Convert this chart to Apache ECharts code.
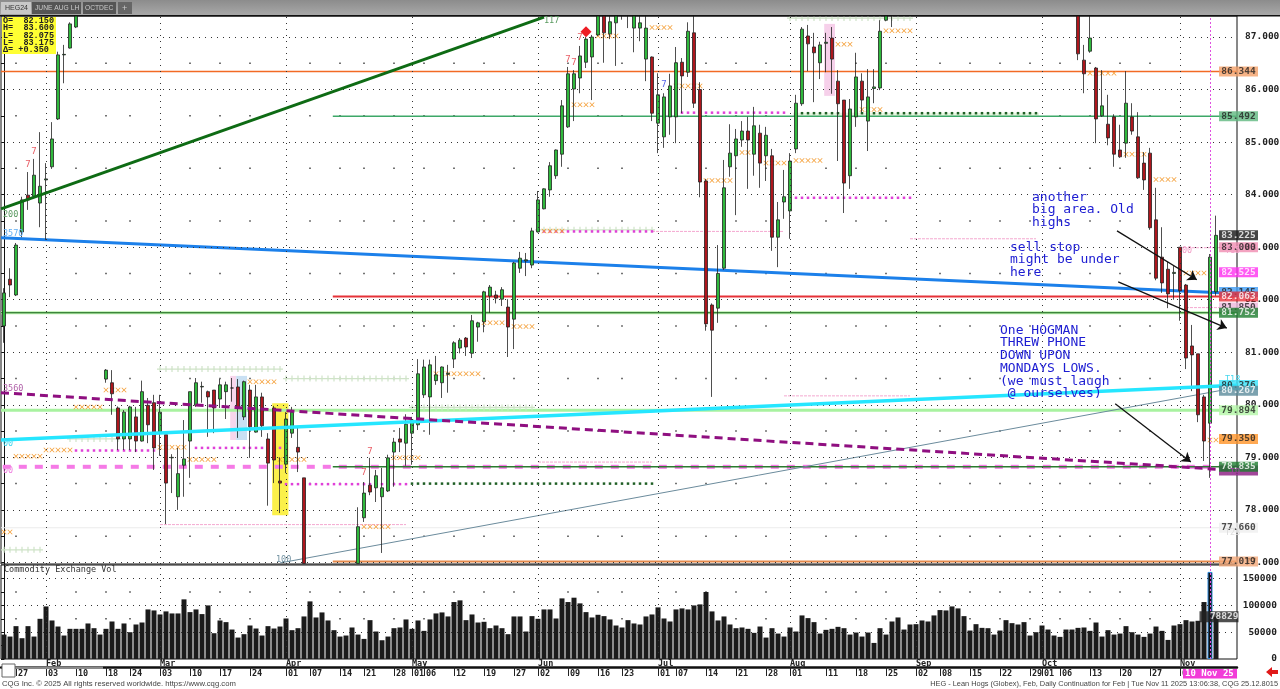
<!DOCTYPE html>
<html>
<head>
<meta charset="utf-8">
<title>HEG - Lean Hogs</title>
<script src="https://cdn.jsdelivr.net/npm/echarts@6/dist/echarts.min.js"></script>
<style>
    html, body { margin: 0; padding: 0; background: #fff; }
    #chart { width: 1280px; height: 689px; }
</style>
</head>
<body>
<div id="chart"></div>
<script>
// open, close, low, high. null = bar is off the visible price range
var ohlc = [
    [81.50,82.13,81.18,82.22],[82.39,82.28,82.05,82.60],[82.09,83.04,82.07,83.08],[83.29,83.90,83.19,83.96],
    [83.99,83.90,83.71,84.43],[83.97,84.37,83.94,84.68],[83.84,84.16,83.38,85.19],[84.28,84.30,83.14,84.60],
    [84.53,85.06,84.49,85.38],[85.44,86.66,85.42,86.72],[86.66,86.67,86.12,86.85],[86.79,87.25,86.78,87.28],
    [87.19,87.60,87.17,87.80],null,null,null,null,
    [80.49,80.66,80.42,80.68],[80.42,80.21,79.81,80.66],[79.94,79.35,79.14,79.97],[79.35,79.86,79.14,79.90],
    [79.35,79.96,79.14,79.98],[79.77,79.31,79.10,79.96],[79.31,80.25,79.30,80.46],[79.99,79.62,79.27,80.13],
    [80.04,79.18,78.76,80.19],[79.48,79.86,79.03,80.19],[79.43,78.51,77.73,79.43],[78.99,79.00,78.32,79.06],
    [78.25,78.69,78.00,79.18],[78.85,78.97,78.25,79.71],[79.31,80.25,78.61,80.25],[79.99,80.42,79.96,80.51],
    [80.34,80.35,80.04,80.44],[80.25,80.15,79.39,80.27],[80.28,79.94,79.46,80.28],[80.11,80.38,79.94,80.49],
    [80.25,80.38,79.73,80.44],[80.32,80.32,80.06,80.51],[80.34,79.94,79.37,80.49],[79.77,80.44,79.71,80.46],
    [80.28,79.58,78.99,80.38],[79.48,80.15,79.47,80.38],[80.15,79.60,79.39,80.23],[79.35,78.89,78.08,79.46],
    [79.94,78.95,78.51,79.98],[78.55,78.51,77.94,79.00],[78.87,79.73,78.70,79.86],[79.46,79.86,79.37,79.96],
    [79.19,79.10,78.72,79.56],[78.61,76.98,76.98,78.61],null,null,null,null,null,null,null,null,
    [76.98,77.68,76.98,78.05],[77.85,78.32,77.77,78.53],[78.47,78.34,78.28,78.99],[78.42,78.65,78.15,78.76],
    [78.25,78.42,77.18,78.80],[78.36,78.99,78.34,79.05],[79.10,79.29,78.44,79.37],[79.35,79.29,79.10,79.56],
    [79.27,79.63,78.84,79.82],[79.46,79.71,78.86,79.77],[79.62,80.59,79.52,80.87],[80.19,80.72,80.13,80.86],
    [80.15,80.76,79.43,80.86],[80.46,80.57,80.38,80.93],[80.42,80.72,80.13,80.73],[80.58,80.60,80.23,80.76],
    [80.87,81.18,80.70,81.21],[81.08,81.23,80.98,81.27],[81.27,81.10,80.93,81.29],[80.98,81.60,80.89,81.71],
    [81.48,81.56,81.20,81.58],[81.58,82.15,81.38,82.17],[82.07,82.24,81.75,82.28],[82.09,82.03,81.93,82.17],
    [82.01,82.19,81.88,82.24],[81.86,81.48,80.91,82.01],[81.63,82.70,81.06,82.72],[82.60,82.79,82.51,82.91],
    [82.74,82.76,82.45,82.89],[82.66,83.31,82.60,83.37],[83.29,83.90,83.28,84.07],[83.73,84.11,83.72,84.12],
    [84.09,84.55,83.96,84.62],[84.36,84.85,84.30,84.86],[84.77,85.69,84.53,85.80],[85.29,86.30,85.27,86.43],
    [86.01,86.30,85.40,86.37],[86.22,86.64,85.93,86.83],[86.52,86.96,86.41,87.00],[86.62,87.00,85.80,87.04],
    [87.04,87.50,87.02,87.60],[87.50,87.08,86.51,87.60],[87.06,87.29,86.96,87.45],[87.27,87.45,86.45,87.55],
    [87.70,87.50,87.33,87.90],[87.50,87.80,87.17,87.90],[87.17,87.50,86.71,87.60],[87.17,87.27,86.92,87.45],
    [86.58,87.17,86.16,87.45],[86.62,85.55,85.40,86.63],[85.36,85.90,84.79,86.31],[85.10,85.86,84.89,85.93],
    [85.48,86.07,85.14,86.30],[85.48,86.51,84.98,86.81],[86.52,86.26,85.55,86.60],[86.33,87.11,86.24,87.28],
    [87.08,85.74,85.65,87.45],[86.00,84.24,83.95,86.14],[84.26,81.54,81.41,84.30],[81.90,81.42,80.15,81.93],
    [81.84,82.50,81.56,83.04],[82.60,84.13,82.57,84.66],[84.53,84.79,84.34,85.34],[84.74,85.06,83.61,85.25],
    [85.04,85.21,84.91,85.40],[85.21,85.04,84.11,85.48],[84.77,85.31,84.36,85.67],[85.17,84.60,84.13,85.33],
    [84.74,85.13,84.26,85.29],[84.74,83.19,82.93,84.87],[83.19,83.52,82.62,83.86],[83.86,83.96,83.54,84.47],
    [83.69,84.64,83.16,84.79],[84.87,85.74,84.79,85.90],[85.73,87.15,85.69,87.19],[87.02,86.87,86.35,87.23],
    [86.81,86.70,85.76,87.08],[86.51,86.85,86.20,86.91],[86.88,86.90,86.33,87.08],[86.98,86.58,85.92,87.19],
    [86.16,85.73,84.64,86.37],[85.80,84.22,83.65,85.80],[84.36,85.63,84.11,85.82],[85.48,86.24,85.29,86.70],
    [86.16,85.80,85.57,86.31],[85.40,85.86,84.83,86.39],[86.02,86.05,85.74,86.39],[86.03,87.11,85.99,87.32],
    [87.32,87.50,87.30,87.60],[87.70,87.50,87.19,87.90],
    null,null,null,null,null,null,null,null,null,null,null,null,null,null,null,
    null,null,null,null,null,null,null,null,null,null,null,null,null,null,null,
    [87.60,86.68,86.56,87.80],[86.56,86.30,85.93,86.85],[86.73,86.98,86.70,87.60],[86.41,85.44,84.98,86.43],
    [85.50,85.69,85.48,86.37],[85.34,85.08,84.94,85.90],[85.48,84.77,84.53,85.53],[84.85,84.72,84.70,85.33],
    [84.98,85.74,84.70,86.35],[85.48,85.21,85.14,85.74],[85.10,84.32,84.30,85.57],[84.60,84.28,84.09,84.81],
    [84.79,83.37,83.33,84.89],[83.52,82.41,82.37,84.13],[82.81,82.32,82.13,83.38],[82.58,82.11,81.84,82.72],
    [82.50,82.52,82.00,82.64],[83.00,82.17,81.60,83.00],[82.28,80.89,80.68,82.30],[81.12,80.95,80.26,81.52],
    [80.97,79.81,79.67,80.97],[80.15,79.31,78.93,80.19],[79.65,82.81,78.61,82.87],[82.15,83.225,82.075,83.60]
];

var volume = [
    45600,41900,61300,38800,61300,41900,75000,98100,71900,60600,43800,56300,56300,56300,66300,57500,45600,
    56300,70000,56300,66300,50000,64400,68100,92500,90600,83100,88800,85000,85000,111300,87500,92500,83800,
    100000,48100,71900,68800,55000,40000,46300,62500,56900,43800,61300,56900,60600,75600,53800,57500,79400,
    107500,77500,86900,71900,53800,41900,43800,58800,45600,37500,72500,51300,35000,41900,57500,58800,73800,
    56300,71900,52500,73800,85000,86900,79400,106300,109400,72500,83100,68100,69400,57500,62500,57500,46300,
    79400,79400,51300,80000,75000,92500,92500,75600,113100,106300,114400,103800,87500,77500,82500,80000,73800,
    62500,58800,72500,66300,64400,79400,83100,96300,75600,70000,92500,94400,92500,100000,101900,125000,88800,
    71900,79400,64400,57500,58800,56300,48800,60600,40000,57500,47500,41900,58800,51300,81300,76300,68800,
    47500,54400,56300,60000,57500,45600,49400,41900,49400,30000,57500,45600,70000,77500,55000,64400,65000,
    71900,70000,81300,91300,90600,98100,94400,80000,53100,65000,58100,57500,45600,53100,72500,66900,64400,
    68800,43800,50000,62500,55000,43800,41300,55000,55000,58100,58800,52500,68100,41900,53800,45600,47500,
    61300,50000,45600,41300,47500,60600,52500,35600,62500,65000,72500,70000,71300,106300,162500,78829
];

var barCount = 206;   // three empty slots after the last bar
var priceTicks = [77,78,79,80,81,82,83,84,85,86,87];
var priceMinor = [77.5,78.5,79.5,80.5,81.5,82.5,83.5,84.5,85.5,86.5];
var volTicks = [0,50000,100000,150000];
var volMinor = [25000,75000,125000];

var monthStarts = [7,26,47,68,89,109,131,152,173,196];
var monthNames = ['Feb','Mar','Apr','May','Jun','Jul','Aug','Sep','Oct','Nov'];
var dayIdx = [2,7,12,17,21,26,31,36,41,47,51,56,60,65,68,70,75,80,85,89,94,99,103,109,112,117,122,127,131,137,142,147,152,156,161,166,171,173,176,181,186,191,196];
var dayNames = ['27','03','10','18','24','03','10','17','24','01','07','14','21','28','01','06','12','19','27','02','09','16','23','01','07','14','21','28','01','11','18','25','02','08','15','22','29','01','06','13','20','27','03'];

// [first bar, last bar, price]
var xRuns = [[0,1,77.58],[2,6,79.02],[7,11,79.14],[12,16,79.96],[17,20,80.28],[26,30,79.19],[31,35,78.96],[41,45,80.44],[46,50,78.96],
    [60,64,77.68],[65,69,78.99],[72,79,80.59],[80,83,81.56],[85,88,81.49],[90,93,83.31],[95,98,85.71],[99,102,87.02],[108,111,87.18],
    [112,116,86.07],[117,121,84.27],[123,124,84.80],[127,130,84.60],[132,136,84.65],[139,141,86.86],[143,146,85.62],[147,151,87.12],
    [181,185,86.31],[187,190,84.77],[192,195,84.29],[197,200,82.51],[201,203,79.33]];
var magentaRuns = [[12,25,79.13],[32,46,79.18],[47,67,78.49],[90,108,83.30],[113,130,85.56],[132,151,83.94],[203,203,82.51]];
var greenDotRuns = [[68,108,78.50],[132,172,85.55]];
var plusRuns = [[0,6,77.24],[11,19,79.35],[26,46,80.68],[47,67,80.50],[68,88,79.95],[89,108,83.33],[131,151,87.36]];

// thin pink stop levels: [first bar, last bar, price]
var pinkLevels = [[26,67,77.72],[89,108,78.91],[130,151,80.17],[108,130,83.30],[151,172,83.16],[196,205,82.99],[197,203,81.85]];

var redSevens = [[5,84.81],[4,84.58],[96,86.98],[94,86.56],[95,86.51],[61,79.10],[60,78.70]];
var blueSevens = [[110,86.09]];
var diamonds = [[97,87.10]];

var tagValues = [86.344,85.492,83.225,83.000,82.525,81.850,82.145,82.063,81.752,80.376,80.267,79.894,79.350,78.750,78.820,77.660,77.019];
var tagTexts = ['86.344','85.492','83.225','83.000','82.525','81.850','82.145','82.063','81.752','80.376','80.267','79.894','79.350','','78.835','77.660','77.019'];
var tagFill = ['#f4a068','#5fb880','#151515','#f08cb0','#ff30f0','#eeb8dc','#3f9cf5','#e8323c','#1d7d2e','#35e4fb','#5b8b9b','#b4f6a8','#ff9428','#8a1880','#1d7d2e','#efefef','#f2a878'];
var tagInk = ['#222','#222','#fff','#222','#fff','#222','#222','#fff','#fff','#222','#fff','#222','#222','#fff','#fff','#222','#222'];

var xPoints = function(runs) {
    var out = [];
    runs.forEach(function(r) {
        for (var i = r[0]; i <= r[1]; i++) {
            out.push([i, r[2]]);
        }
    });
    return out;
};

var cats = [];
for (var c = 0; c < barCount; c++) { cats.push('b' + c); }

var dayOf = {};
dayIdx.forEach(function(v, i) { dayOf['b' + v] = dayNames[i]; });
var monthOf = {};
monthStarts.forEach(function(v, i) { monthOf['b' + v] = monthNames[i]; });

// minor dots sit on the weekly ticks that are not month starts
var weekIdx = dayIdx.filter(function(d) { return monthStarts.indexOf(d) < 0; });
var priceDots = [], volDots = [];
weekIdx.forEach(function(w) {
    priceMinor.forEach(function(p) { priceDots.push([w, p]); });
    volMinor.forEach(function(v) { volDots.push([w, v]); });
});

var candles = ohlc.map(function(r) { return r || ['-','-','-','-']; });
var xCross = 'path://M1 0L5 4L9 0L10 1L6 5L10 9L9 10L5 6L1 10L0 9L4 5L0 1Z';
var xPlus = 'path://M4 0H6V4H10V6H6V10H4V6H0V4H4Z';
var monoFont = '"DejaVu Sans Mono", monospace';

var level = function(from, to, price, color, width, dash, z) {
    return {
        type: 'line', xAxisIndex: 1, yAxisIndex: 0, z: z || 1, symbol: 'none', silent: true,
        data: [[from, price], [to, price]],
        lineStyle: { color: color, width: width, type: dash || 'solid', cap: 'butt' }
    };
};
var slope = function(a, b, color, width, dash, z) {
    return {
        type: 'line', xAxisIndex: 1, yAxisIndex: 0, z: z, symbol: 'none', silent: true,
        data: [a, b],
        lineStyle: { color: color, width: width, type: dash || 'solid', cap: 'butt' }
    };
};
var markRow = function(runs, symbol, size, color, z) {
    return {
        type: 'scatter', xAxisIndex: 1, yAxisIndex: 0, z: z || 3, silent: true,
        symbol: symbol, symbolSize: size, data: xPoints(runs),
        itemStyle: { color: color, opacity: 1 }
    };
};

var series = [];

// grid dots + shaded boxes
series.push({
    type: 'line', xAxisIndex: 1, yAxisIndex: 0, z: 0, silent: true, data: [],
    markLine: {
        silent: true, symbol: 'none', animation: false, label: { show: false },
        lineStyle: { color: '#333', width: 1, type: [1, 5] },
        data: priceTicks.map(function(p) { return { yAxis: p }; })
            .concat(monthStarts.map(function(m) { return { xAxis: m }; }))
    },
    markArea: {
        silent: true, animation: false,
        data: [
            [{ coord: [37.7, 80.55], itemStyle: { color: '#f7d6ec' } }, { coord: [38.7, 79.33] }],
            [{ coord: [38.7, 80.55], itemStyle: { color: '#c9e0f3' } }, { coord: [40.5, 79.33] }],
            [{ coord: [44.7, 80.03], itemStyle: { color: '#fbf04a' } }, { coord: [47.4, 77.90] }],
            [{ coord: [136.7, 87.25], itemStyle: { color: '#f6d0ea' } }, { coord: [138.5, 85.88] }]
        ]
    }
});
series.push({
    type: 'scatter', xAxisIndex: 1, yAxisIndex: 0, z: 0, silent: true, symbol: 'rect', symbolSize: 1.5,
    data: priceDots, itemStyle: { color: '#444', opacity: 1 }
});

// horizontal studies behind the bars
series.push(level(131.5, 172.5, 85.52, '#e6f7e0', 4));
series.push(level(-0.5, 205.5, 86.344, '#f26a24', 1.4));
series.push(level(54.8, 205.5, 85.492, '#3da868', 1.4));
series.push(level(54.8, 205.5, 82.063, '#e63238', 2));
series.push(level(-0.5, 205.5, 81.752, '#b6f0a8', 3));
series.push(level(-0.5, 205.5, 81.752, '#14601a', 1));
series.push(level(-0.5, 205.5, 79.894, '#a8f2a0', 3));
series.push(level(-0.5, 205.5, 77.66, '#ececec', 1));
series.push(level(-0.2, 205.5, 78.82, '#f57ae6', 4, [8, 8]));
series.push(level(54.8, 205.5, 78.82, '#2c7a30', 1.5, null, 1));
series.push(level(54.8, 205.5, 77.019, '#e58a4c', 2));
pinkLevels.forEach(function(l) {
    series.push(level(l[0], l[1], l[2], '#f4a8d0', 1, [3, 1]));
});
series.push(slope([-0.5, 83.18], [205.5, 82.12], '#1c80ea', 3, null, 1));
series.push(slope([46, 76.99], [205.5, 80.33], '#6b8b9c', 1, null, 1));

series.push(markRow(plusRuns, xPlus, 6, '#cfe3c8', 1));
series.push(markRow(greenDotRuns, 'rect', 2.5, '#1f5f25', 3));
series.push(markRow(magentaRuns, 'rect', 2.5, '#e040d8', 3));
series.push(markRow(xRuns, xCross, 5, '#f39a2e', 3));

series.push({
    type: 'candlestick', xAxisIndex: 0, yAxisIndex: 0, z: 4, data: candles, barWidth: 4, silent: true,
    clip: true,
    itemStyle: { color: '#2fb83c', color0: '#ad161d', borderColor: '#222', borderColor0: '#222', borderWidth: 0.8 }
});

// lines drawn over the bars
series.push(slope([-0.5, 83.73], [90, 87.38], '#0e6b14', 3, null, 5));
series.push(slope([-0.5, 79.33], [205.5, 80.37], '#25e6ff', 3.5, null, 5));
series.push(slope([-0.5, 80.23], [205.5, 78.75], '#8f0f80', 3, [8, 5], 5));

// marker at the last session, and the arrows
series.push({
    type: 'line', xAxisIndex: 1, yAxisIndex: 0, z: 6, silent: true, data: [],
    markLine: {
        silent: true, animation: false, label: { show: false }, symbol: 'none',
        data: [
            { xAxis: 201, lineStyle: { color: '#e050e0', type: [2, 2], width: 1 } },
            [{ coord: [185.5, 83.31], symbol: 'none', lineStyle: { color: '#111', type: 'solid', width: 1.3 } }, { coord: [198.8, 82.38], symbol: 'arrow', symbolSize: 9 }],
            [{ coord: [185.7, 82.34], symbol: 'none', lineStyle: { color: '#111', type: 'solid', width: 1.3 } }, { coord: [203.8, 81.46], symbol: 'arrow', symbolSize: 9 }],
            [{ coord: [185.2, 80.02], symbol: 'none', lineStyle: { color: '#111', type: 'solid', width: 1.3 } }, { coord: [197.8, 78.91], symbol: 'arrow', symbolSize: 9 }]
        ]
    }
});

// little count-down figures and the diamond
[[redSevens, '#e2323c'], [blueSevens, '#2a3ae0']].forEach(function(s) {
    series.push({
        type: 'scatter', xAxisIndex: 1, yAxisIndex: 0, z: 6, silent: true, symbolSize: 1, data: s[0],
        itemStyle: { color: 'rgba(0,0,0,0)' },
        label: { show: true, position: 'inside', formatter: '7', color: s[1], fontSize: 9, fontFamily: monoFont }
    });
});
series.push({
    type: 'scatter', xAxisIndex: 1, yAxisIndex: 0, z: 6, silent: true, symbol: 'diamond', symbolSize: 11,
    data: diamonds, itemStyle: { color: '#ee1c24', opacity: 1 }
});

// price tags on the right edge
series.push({
    type: 'scatter', xAxisIndex: 1, yAxisIndex: 0, z: 20, silent: true, symbolSize: 1,
    itemStyle: { color: 'rgba(0,0,0,0)' },
    data: tagValues.map(function(v, i) {
        return {
            value: [205.5, v],
            label: {
                show: true, position: 'right', distance: 1, formatter: tagTexts[i],
                backgroundColor: tagFill[i], color: tagInk[i],
                fontFamily: monoFont, fontWeight: 'bold', fontSize: 9.5,
                width: 39, height: 10, lineHeight: 10, align: 'center'
            }
        };
    })
});

// volume panel
series.push({
    type: 'line', xAxisIndex: 4, yAxisIndex: 1, z: 0, silent: true, data: [],
    markLine: {
        silent: true, symbol: 'none', animation: false, label: { show: false },
        lineStyle: { color: '#333', width: 1, type: [1, 5] },
        data: volTicks.slice(1).map(function(p) { return { yAxis: p }; })
            .concat(monthStarts.map(function(m) { return { xAxis: m }; }))
            .concat([{ xAxis: 201, lineStyle: { color: '#e050e0', type: [2, 2] } }])
    }
});
series.push({
    type: 'scatter', xAxisIndex: 4, yAxisIndex: 1, z: 0, silent: true, symbol: 'rect', symbolSize: 1.5,
    data: volDots, itemStyle: { color: '#444', opacity: 1 }
});
series.push({
    type: 'bar', xAxisIndex: 2, yAxisIndex: 1, z: 3, barWidth: 5, silent: true,
    data: volume.map(function(v, i) {
        return i == 201 ? { value: v, itemStyle: { color: '#111', borderColor: '#2a86d8', borderWidth: 1 } } : v;
    }),
    itemStyle: { color: '#1b1b1b' }
});
series.push({
    type: 'scatter', xAxisIndex: 4, yAxisIndex: 1, z: 20, silent: true, symbolSize: 1,
    itemStyle: { color: 'rgba(0,0,0,0)' },
    data: [{
        value: [205.5, 78829],
        label: {
            show: true, position: 'right', distance: 1, formatter: '78829',
            backgroundColor: '#222', color: '#fff', fontFamily: monoFont, fontWeight: 'bold', fontSize: 9.5,
            width: 39, height: 11, lineHeight: 11, align: 'right'
        }
    }]
});

var label = function(x, y, text, color, size, font, weight) {
    return {
        type: 'text', x: x, y: y, z: 50, silent: true,
        style: { text: text, fill: color, fontSize: size || 9, fontFamily: font || 'Liberation Sans', fontWeight: weight || 'normal', textVerticalAlign: 'middle' }
    };
};
var box = function(x, y, w, h, fill, z) {
    return { type: 'rect', z: z || 40, silent: true, shape: { x: x, y: y, width: w, height: h }, style: { fill: fill } };
};
var note = function(x, y, text) {
    return {
        type: 'text', x: x, y: y, z: 50, silent: true,
        style: { text: text, fill: '#1c1cd2', fontSize: 13, lineHeight: 12.7, fontFamily: monoFont }
    };
};
var readout = '"Liberation Mono", monospace';

var chrome = [
    // tab strip
    { type: 'rect', z: 40, silent: true, shape: { x: 0, y: 0, width: 1280, height: 15 },
      style: { fill: new echarts.graphic.LinearGradient(0, 0, 0, 1, [{ offset: 0, color: '#8c8c8c' }, { offset: 1, color: '#a8a8a8' }]) } },
    box(0, 15, 1280, 1.5, '#111'),
    box(1, 2, 30, 12, '#c8c8c8', 41), label(5, 8.5, 'HEG24', '#333', 7),
    box(32, 2, 49, 12, '#555', 41), label(35, 8.5, 'JUNE AUG LH', '#ccc', 6.7),
    box(83, 2, 33, 12, '#555', 41), label(85, 8.5, 'OCTDEC', '#ccc', 6.7),
    box(118, 2, 14, 12, '#666', 41), label(122, 8.5, '+', '#ccc', 9),
    // OHLC read-out
    box(2, 17, 54, 37, '#ffff33', 41),
    label(3, 21, 'O=  82.150', '#222', 8.5, readout, 'bold'),
    label(3, 28, 'H=  83.600', '#222', 8.5, readout, 'bold'),
    label(3, 35.5, 'L=  82.075', '#222', 8.5, readout, 'bold'),
    label(3, 43, 'L=  83.175', '#222', 8.5, readout, 'bold'),
    label(3, 50, '\u0394= +0.350', '#222', 8.5, readout, 'bold'),
    // study captions
    label(3, 215, '200', '#5a9a60', 8.5, monoFont),
    label(3, 234, '3570', '#62aef2', 8.5, monoFont),
    label(3, 389, '3560', '#b060a8', 8.5, monoFont),
    label(3, 444, '00', '#48d8ee', 8.5, monoFont),
    label(3, 471, '00', '#f080e0', 8.5, monoFont),
    label(276, 560, '100', '#7090a0', 8.5, monoFont),
    label(544, 21, '117', '#5a9a60', 8.5, monoFont),
    label(1182, 251, '00', '#f2a0c8', 8.5, monoFont),
    label(1225, 251, 'T15', '#f2a0c8', 8.5, monoFont),
    label(1225, 380, 'T18', '#48d8ee', 8.5, monoFont),
    label(1230, 473, 'T9', '#a040a0', 8.5, monoFont),
    label(1225, 533, 'T23', '#dddddd', 8.5, monoFont),
    // hand written notes
    note(1032, 191, 'another\nbig area. Old\nhighs'),
    note(1010, 241, 'sell stop\nmight be under\nhere'),
    note(1000, 324, 'One HOGMAN\nTHREW PHONE\nDOWN UPON\nMONDAYS LOWS.\n(we must laugh\n @ ourselves)'),
    // panel caption
    label(4, 570, 'Commodity Exchange Vol', '#333', 8.5, monoFont),
    // scrollbar bits and footer
    box(15, 666.5, 88, 2.5, '#8a8a8a'),
    { type: 'rect', z: 41, silent: true, shape: { x: 2, y: 664, width: 13, height: 13 }, style: { fill: '#fff', stroke: '#666', lineWidth: 1 } },
    box(1183, 669, 54, 9.5, '#f23cd8', 41),
    label(1185, 674, '10 Nov 25', '#fff', 9, monoFont, 'bold'),
    { type: 'polygon', z: 41, silent: true, shape: { points: [[1266, 672], [1272, 667], [1272, 670], [1278, 670], [1278, 674], [1272, 674], [1272, 677]] }, style: { fill: '#e01818' } },
    label(2, 684, 'CQG Inc. \u00a9 2025 All rights reserved worldwide. https://www.cqg.com', '#444', 7.7),
    { type: 'text', z: 50, silent: true, x: 1278, y: 684,
      style: { text: 'HEG - Lean Hogs (Globex), Feb, Daily Continuation for Feb | Tue Nov 11 2025 13:06:38, CQG 25.12.8015', fill: '#444', fontSize: 7.4, fontFamily: 'Liberation Sans', textAlign: 'right', textVerticalAlign: 'middle' } }
];

var myChart = echarts.init(document.getElementById('chart'));
var option = {
    animation: false,
    backgroundColor: '#fff',
    textStyle: { fontFamily: 'Liberation Sans' },
    grid: [
        { left: 1, right: 43, top: 16, height: 548, show: true, backgroundColor: '#fff', borderColor: '#111', borderWidth: 1, outerBoundsMode: 'none' },
        { left: 1, right: 43, top: 565, height: 94, show: true, backgroundColor: '#fff', borderColor: '#111', borderWidth: 1, outerBoundsMode: 'none' }
    ],
    xAxis: [
        { type: 'category', gridIndex: 0, data: cats, show: false },
        { type: 'value', gridIndex: 0, min: -0.5, max: 205.5, show: false },
        {
            // day row
            type: 'category', gridIndex: 1, data: cats, position: 'bottom', offset: 8,
            axisLine: { onZero: false, lineStyle: { color: '#111', width: 2.5 } },
            axisTick: {
                show: true, alignWithLabel: true, length: 9, lineStyle: { color: '#222', width: 1 },
                interval: function(i, v) { return dayOf[v] !== undefined; }
            },
            axisLabel: {
                show: true, margin: 2, align: 'left', padding: [0, 0, 0, 2], color: '#222',
                fontFamily: monoFont, fontWeight: 'bold', fontSize: 8.5,
                interval: function(i, v) { return dayOf[v] !== undefined; },
                formatter: function(v) { return dayOf[v] || ''; }
            }
        },
        {
            // month row
            type: 'category', gridIndex: 1, data: cats, position: 'bottom',
            axisLine: { show: false, onZero: false },
            axisTick: { show: false },
            axisLabel: {
                show: true, margin: 0, align: 'left', color: '#222',
                fontFamily: monoFont, fontWeight: 'bold', fontSize: 8.5,
                interval: function(i, v) { return monthOf[v] !== undefined; },
                formatter: function(v) { return monthOf[v] || ''; }
            }
        },
        { type: 'value', gridIndex: 1, min: -0.5, max: 205.5, show: false }
    ],
    yAxis: [
        {
            type: 'value', gridIndex: 0, position: 'right', min: 76.97, max: 87.40, scale: true,
            splitLine: { show: false },
            axisLine: { show: true, lineStyle: { color: '#111' } },
            axisTick: { show: true, inside: true, length: 3, lineStyle: { color: '#111' }, customValues: priceTicks.concat(priceMinor) },
            axisLabel: {
                show: true, customValues: priceTicks, margin: 8, color: '#222',
                fontFamily: monoFont, fontWeight: 'bold', fontSize: 9.5,
                formatter: function(v) { return v.toFixed(3); }
            }
        },
        {
            type: 'value', gridIndex: 1, position: 'right', min: 0, max: 175400,
            splitLine: { show: false },
            axisLine: { show: true, lineStyle: { color: '#111' } },
            axisTick: { show: true, inside: true, length: 3, lineStyle: { color: '#111' }, customValues: volTicks.concat(volMinor) },
            axisLabel: {
                show: true, customValues: volTicks, margin: 40, color: '#222', align: 'right',
                fontFamily: monoFont, fontWeight: 'bold', fontSize: 9.5,
                formatter: function(v) { return String(v); }
            }
        },
        {
            // tick marks on the left edge
            type: 'value', gridIndex: 0, position: 'left', min: 76.97, max: 87.40, scale: true,
            splitLine: { show: false }, axisLine: { show: false }, axisLabel: { show: false },
            axisTick: { show: true, inside: true, length: 3, lineStyle: { color: '#111' }, customValues: priceTicks.concat(priceMinor) }
        },
        {
            type: 'value', gridIndex: 1, position: 'left', min: 0, max: 175400,
            splitLine: { show: false }, axisLine: { show: false }, axisLabel: { show: false },
            axisTick: { show: true, inside: true, length: 3, lineStyle: { color: '#111' }, customValues: volTicks.concat(volMinor) }
        }
    ],
    series: series,
    graphic: { elements: chrome }
};
myChart.setOption(option);
</script>
</body>
</html>
